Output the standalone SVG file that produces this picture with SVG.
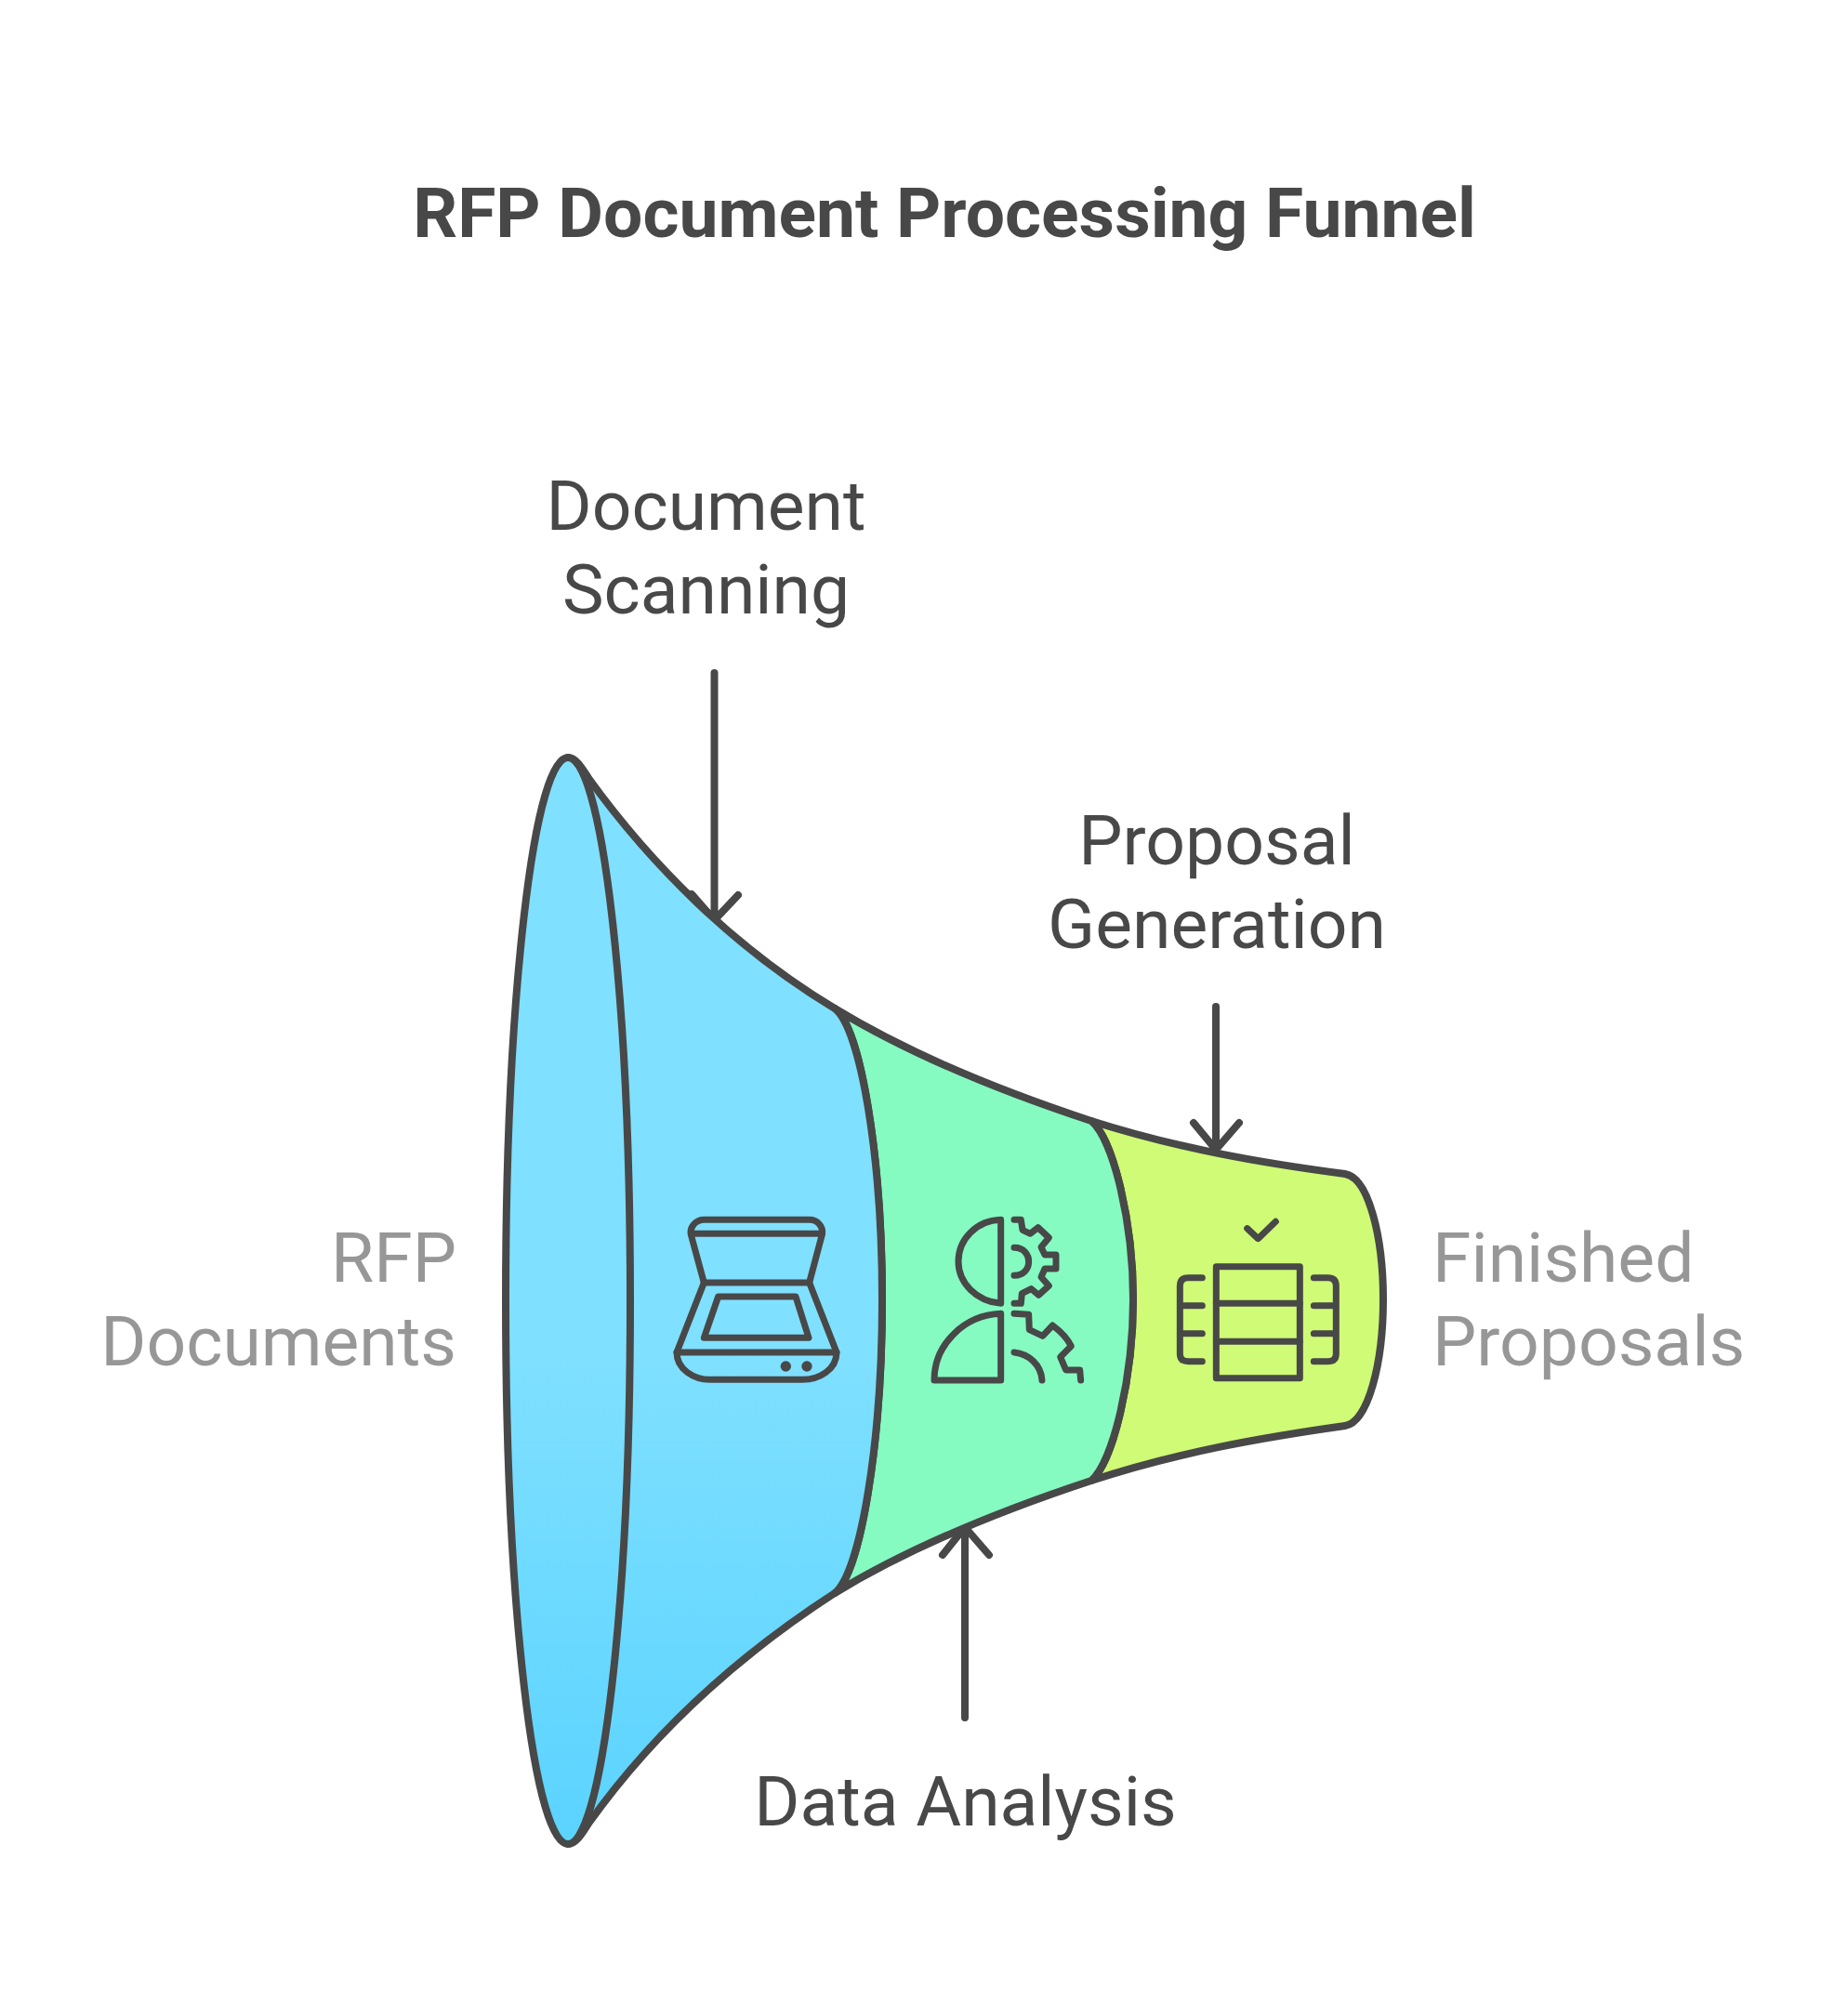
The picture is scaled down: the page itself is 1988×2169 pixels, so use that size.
<svg xmlns="http://www.w3.org/2000/svg" width="1988" height="2169" viewBox="0 0 1988 2169">
<style>
.s{stroke:#484848;stroke-width:8;stroke-linecap:round;stroke-linejoin:round;fill:none}
.i{stroke:#484848;stroke-width:21;stroke-linecap:round;stroke-linejoin:round;fill:none}
.l{font-family:Roboto,"Liberation Sans",sans-serif;font-size:75px;fill:#484848}
.g{fill:#979797}
.t{font-family:Roboto,"Liberation Sans",sans-serif;font-size:75px;font-weight:700;fill:#484848}
</style>
<defs>
<linearGradient id="blue" gradientUnits="userSpaceOnUse" x1="0" y1="1450" x2="0" y2="1987">
<stop offset="0" stop-color="#80E0FF"/><stop offset="1" stop-color="#5AD3FF"/>
</linearGradient>
</defs>
<rect width="1988" height="2169" fill="#fff"/>
<text id="title" class="t" x="1016" y="255" text-anchor="middle">RFP Document Processing Funnel</text>
<g id="connectors">
<path class="s" d="M768.500 724V990M744 962L768.500 990L794 963"/>
<path class="s" d="M1308 1083V1237M1284 1208L1308 1237L1333 1208"/>
<path class="s" d="M1038 1848V1643M1014 1673L1038 1643L1064 1673"/>
</g>
<g id="stage-yellow">
<path class="s" style="fill:#D0FB76" d="M1174 1206C1265 1235 1355 1251 1447 1263C1472 1267 1488 1330 1488 1398C1488 1466 1472 1530 1447 1534C1355 1547 1265 1563 1174 1593C1198 1572 1219 1480 1219 1398C1219 1316 1198 1226 1174 1206Z"/>
<g transform="translate(1240 1280) scale(.3333)">
<path class="i" d="M305 125L340 158L397 103"/>
<rect class="i" x="205" y="248" width="270" height="360"/>
<path class="i" d="M205 367H475M205 490H475"/>
<path class="i" d="M160 284H115Q88 284 88 310V530Q88 554 115 554H160M88 374H160M88 464H160"/>
<path class="i" d="M520 284H565Q592 284 592 310V530Q592 554 565 554H520M520 374H592M520 464H592"/>
</g>
</g>
<g id="stage-green">
<path class="s" style="fill:#85FBC1" d="M898 1085C980 1135 1080 1175 1174 1206C1198 1226 1219 1316 1219 1398C1219 1480 1198 1572 1174 1593C1080 1624 980 1664 898 1714C926 1692 949 1550 949 1398C949 1246 926 1106 898 1085Z"/>
<g transform="translate(980 1280) scale(.3333)">
<path class="i" d="M290 97V367C210 360 153 300 153 232C153 160 210 100 290 97Z"/>
<path class="i" d="M290 400V615H75C75 500 170 405 290 400Z"/>
<path class="i" d="M333 97L355 97L360 130L385 142L410 122L445 155L420 185L432 210L468 210L468 255L432 255L420 282L445 310L412 340L388 320L358 335L355 367L333 367"/>
<path class="i" d="M333 187C365 187 380 210 380 232C380 255 365 277 333 277"/>
<path class="i" d="M333 400L380 403L382 452L425 472L457 438C480 455 505 480 517 505L482 540L500 582L545 582L548 615"/>
<path class="i" d="M333 525C380 530 420 565 423 615"/>
</g>
</g>
<g id="stage-blue">
<path class="s" style="fill:url(#blue)" d="M611 815C620 815 627 828 633 837C700 930 790 1020 898 1085C926 1106 949 1246 949 1398C949 1550 926 1692 898 1714C790 1784 700 1868 633 1962C627 1971 620 1984 611 1984Z"/>
<g transform="translate(700 1280) scale(.3333)">
<path class="i" d="M172 300L130 145C125 118 148 97 172 97H512C538 97 558 118 553 145L512 300"/>
<path class="i" d="M130 142H553M172 300H512"/>
<path class="i" d="M172 300L84 525C84 580 140 613 190 613H490C545 613 600 580 600 525L512 300"/>
<path class="i" d="M84 525H600"/>
<path class="i" d="M218 345H468L510 478H172Z"/>
<circle cx="436" cy="570" r="17" fill="#484848"/><circle cx="504" cy="570" r="17" fill="#484848"/>
</g>
</g>
<g id="stage-mouth">
<ellipse class="s" style="fill:url(#blue)" cx="611" cy="1399.500" rx="67" ry="584.500"/>
</g>
<g id="label-scanning"><text class="l" x="759.500" y="570" text-anchor="middle">Document</text><text class="l" x="759.500" y="660" text-anchor="middle">Scanning</text></g>
<g id="label-proposal"><text class="l" x="1309" y="929.500" text-anchor="middle">Proposal</text><text class="l" x="1309" y="1019.500" text-anchor="middle">Generation</text></g>
<g id="label-analysis"><text class="l" x="1038.500" y="1964" text-anchor="middle">Data Analysis</text></g>
<g id="label-rfp"><text class="l g" x="491" y="1379" text-anchor="end">RFP</text><text class="l g" x="491" y="1469" text-anchor="end">Documents</text></g>
<g id="label-finished"><text class="l g" x="1541" y="1379">Finished</text><text class="l g" x="1541" y="1469">Proposals</text></g>
</svg>
